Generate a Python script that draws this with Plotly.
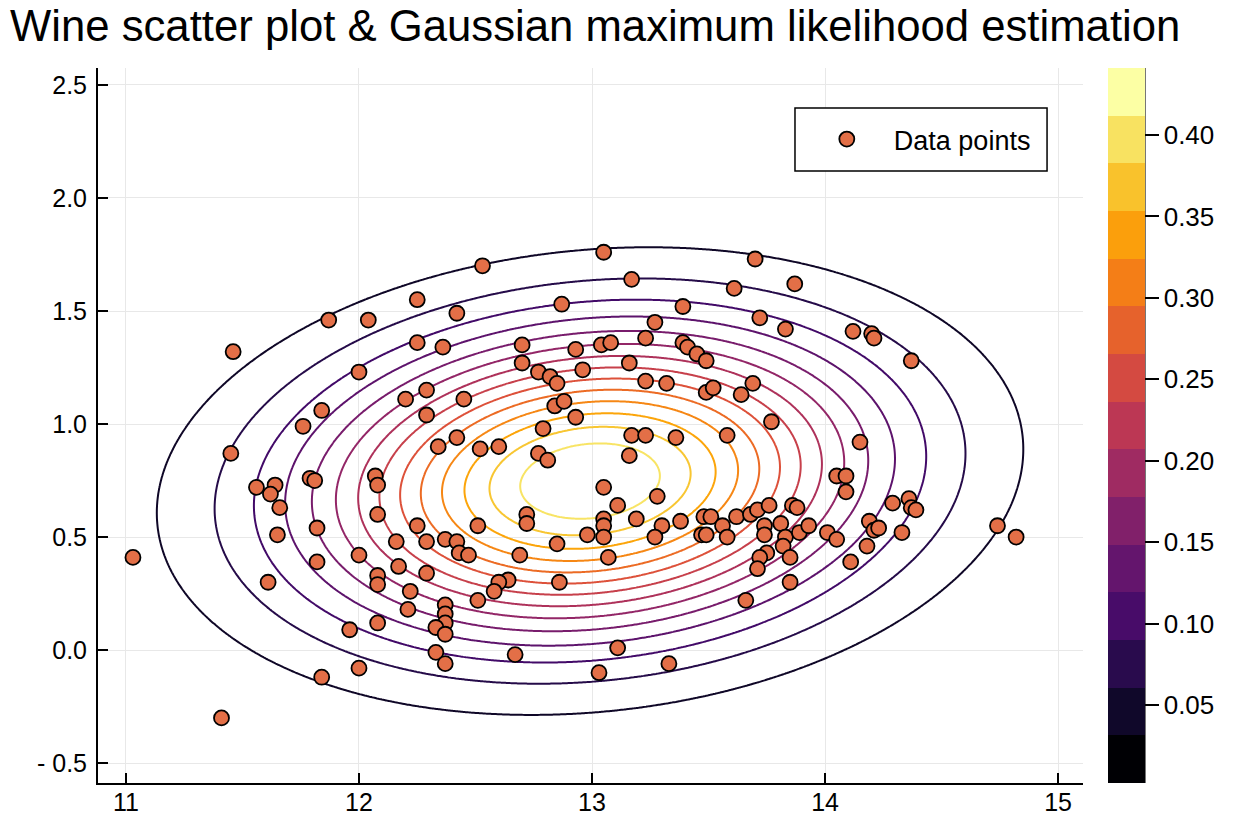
import numpy as np
import plotly.graph_objects as go
import plotly.colors as pc

# Wine data: alcohol vs log(malic acid)
alcohol = [
    11.46, 11.87, 12.04, 12.00, 12.20, 11.84, 11.76, 11.45, 12.07, 12.08, 11.56, 11.64,
    11.62, 11.79, 11.81, 11.66, 12.08, 11.82, 11.65, 12.16, 11.03, 12.00, 11.82, 12.17,
    12.08, 11.61, 12.08, 12.22, 12.21, 11.96, 12.08, 12.00, 11.84, 11.41,
    13.05, 12.53, 13.17, 12.25, 12.42, 12.87, 13.39, 13.27, 12.25, 12.36, 12.70, 12.93,
    13.04, 13.08, 13.23, 13.39, 13.41, 13.45, 13.49, 12.70, 12.77, 12.82, 12.85, 12.96,
    13.16, 13.23, 13.32, 13.49, 12.29, 12.45, 12.84, 12.88,
    12.29, 12.93, 12.79, 13.17, 13.23, 13.36, 12.42, 12.34, 12.52, 12.60, 12.77, 12.81,
    13.16, 13.05, 13.28, 13.11, 12.72, 12.72, 12.25, 12.51, 13.05, 13.05, 13.19, 13.38,
    13.48, 13.51, 13.30, 13.27, 12.98, 13.05, 13.47, 13.49, 12.37, 12.42, 12.29, 12.43,
    12.47, 12.85, 12.69, 13.07, 12.29,
    12.64, 12.60, 12.58, 12.86, 12.51, 12.37, 12.37, 12.37, 12.33, 12.37, 12.33, 12.37,
    12.67, 13.11, 13.03, 13.33,
    13.70, 13.61, 13.87, 13.72, 13.83, 14.12, 14.20, 14.21, 14.37, 13.52, 13.69, 13.64,
    13.77, 13.58, 14.15, 14.05, 14.09, 14.09, 14.29, 14.36, 14.37, 14.39, 13.62, 13.68,
    13.71, 13.76, 13.86, 13.88, 13.56, 13.58, 13.74, 13.81, 13.74, 13.83, 13.89, 13.93,
    14.01, 14.05, 13.82, 13.75, 13.72, 13.85, 13.71, 14.19, 14.21, 14.23, 14.18, 14.11,
    14.33, 14.74, 14.82,
    13.85, 13.66,
]
log_malic_acid = [
    1.32, 1.46, 1.46, 1.23, 1.11, 1.06, 0.99, 0.87, 0.77, 0.73, 0.72, 0.73,
    0.69, 0.76, 0.75, 0.63, 0.60, 0.54, 0.51, 0.48, 0.41, 0.42, 0.39, 0.37,
    0.33, 0.30, 0.29, 0.26, 0.18, 0.09, 0.12, -0.08, -0.12, -0.30,
    1.76, 1.70, 1.64, 1.55, 1.49, 1.53, 1.52, 1.45, 1.36, 1.34, 1.35, 1.33,
    1.35, 1.36, 1.38, 1.36, 1.34, 1.31, 1.28, 1.27, 1.23, 1.21, 1.18, 1.24,
    1.27, 1.19, 1.18, 1.14, 1.15, 1.11, 1.08, 1.10,
    1.04, 1.03, 0.98, 0.95, 0.95, 0.94, 0.94, 0.90, 0.89, 0.90, 0.87, 0.84,
    0.86, 0.72, 0.68, 0.64, 0.60, 0.56, 0.55, 0.55, 0.58, 0.55, 0.58, 0.57,
    0.59, 0.59, 0.55, 0.50, 0.51, 0.50, 0.51, 0.51, 0.49, 0.48, 0.48, 0.43,
    0.42, 0.47, 0.42, 0.41, 0.34,
    0.31, 0.30, 0.26, 0.30, 0.22, 0.20, 0.16, 0.12, 0.10, 0.07, -0.01, -0.06,
    -0.02, 0.01, -0.10, -0.06,
    1.73, 1.60, 1.62, 1.47, 1.42, 1.41, 1.40, 1.38, 1.28, 1.16, 1.18, 1.13,
    1.01, 0.95, 0.92, 0.77, 0.77, 0.70, 0.65, 0.67, 0.63, 0.62, 0.59, 0.60,
    0.62, 0.64, 0.64, 0.63, 0.55, 0.50, 0.55, 0.56, 0.51, 0.50, 0.52, 0.55,
    0.52, 0.49, 0.46, 0.43, 0.41, 0.41, 0.36, 0.57, 0.53, 0.54, 0.46, 0.39,
    0.52, 0.55, 0.50,
    0.30, 0.22,
]

x_ticks = [11, 12, 13, 14, 15]
y_ticks = [-0.5, 0.0, 0.5, 1.0, 1.5, 2.0, 2.5]
y_tick_text = ["- 0.5", "0.0", "0.5", "1.0", "1.5", "2.0", "2.5"]
cbar_ticks = [0.05, 0.10, 0.15, 0.20, 0.25, 0.30, 0.35, 0.40]
cbar_tick_text = ["0.05", "0.10", "0.15", "0.20", "0.25", "0.30", "0.35", "0.40"]

# inferno colour map stops (0, 0.1, ..., 1)
inferno_stops = ["#000004", "#160b39", "#420a68", "#6a176e", "#932667", "#bc3754",
                 "#dd513a", "#f37819", "#fca50a", "#f6d746", "#fcffa4"]
inferno = [[i / 10, c] for i, c in enumerate(inferno_stops)]

N_BANDS = 15
LEVEL_BASE = 0.0022   # lowest value of the colour bar
FONT = "Liberation Sans, Arial, sans-serif"
X_RANGE = [10.88, 15.107]
Y_RANGE = [-0.588, 2.575]

# Gaussian maximum likelihood estimate
xa = np.array(alcohol)
ya = np.array(log_malic_acid)
mu = np.array([xa.mean(), ya.mean()])
cov = np.cov(np.vstack([xa, ya]), bias=True)
inv = np.linalg.inv(cov)
det = np.linalg.det(cov)
peak = 1.0 / (2 * np.pi * np.sqrt(det))

gx = np.linspace(X_RANGE[0], X_RANGE[1], 400)
gy = np.linspace(Y_RANGE[0], Y_RANGE[1], 400)
GX, GY = np.meshgrid(gx, gy)
dx = GX - mu[0]
dy = GY - mu[1]
q = inv[0, 0] * dx**2 + 2 * inv[0, 1] * dx * dy + inv[1, 1] * dy**2
Z = np.exp(-0.5 * q) * peak

step = (peak - LEVEL_BASE) / N_BANDS
n_lines = N_BANDS - 1  # contour lines at base + k*step, k = 1..14

# line k coloured as inferno(k / N_BANDS)
line_cols = pc.sample_colorscale(inferno, [k / N_BANDS for k in range(1, n_lines + 1)])
line_scale = [[k / (n_lines - 1), c] for k, c in enumerate(line_cols)]

# colour bar bands coloured as inferno(i / 14)
band_colors = pc.sample_colorscale(inferno, [i / (N_BANDS - 1) for i in range(N_BANDS)])
discrete_scale = []
for i, c in enumerate(band_colors):
    discrete_scale.append([i / N_BANDS, c])
    discrete_scale.append([(i + 1) / N_BANDS, c])

fig = go.Figure()

fig.add_trace(go.Contour(
    x=gx, y=gy, z=Z,
    contours=dict(coloring="lines", start=LEVEL_BASE + step,
                  end=LEVEL_BASE + n_lines * step, size=step),
    colorscale=line_scale, zmin=LEVEL_BASE + step, zmax=LEVEL_BASE + n_lines * step,
    line=dict(width=2), showscale=False, hoverinfo="skip", showlegend=False,
))

fig.add_trace(go.Scatter(
    x=[None], y=[None], mode="markers", showlegend=False, hoverinfo="skip",
    marker=dict(
        color=[0], colorscale=discrete_scale, cmin=LEVEL_BASE, cmax=peak, showscale=True,
        colorbar=dict(
            thickness=37, thicknessmode="pixels", len=1.0, lenmode="fraction",
            x=1.0254, xanchor="left", y=0.5, yanchor="middle", xpad=0, ypad=0,
            outlinewidth=0, tickvals=cbar_ticks, ticktext=cbar_tick_text,
            ticks="outside", ticklen=14, tickwidth=1.5, tickcolor="black",
            tickfont=dict(family=FONT, size=26, color="black"),
        ),
    ),
))

fig.add_trace(go.Scatter(
    x=alcohol, y=log_malic_acid, mode="markers", name="Data points",
    marker=dict(color="#E36F47", size=15, line=dict(color="black", width=1.8)),
))

# right edge line of the colour bar
fig.add_shape(type="line", xref="paper", yref="paper", x0=1.063, x1=1.063, y0=0, y1=1,
              line=dict(color="#555555", width=1.5))
# legend frame
fig.add_shape(type="rect", xref="paper", yref="paper", x0=0.7076, x1=0.9635, y0=0.856, y1=0.944,
              line=dict(color="black", width=1.5), fillcolor="white", layer="above")

axis_common = dict(
    showgrid=True, gridcolor="#e8e8e8", gridwidth=1, zeroline=False,
    showline=True, linecolor="black", linewidth=2, mirror=False,
    ticks="inside", ticklen=10, tickwidth=1.5, tickcolor="black",
    tickfont=dict(family=FONT, size=25, color="black"),
)

fig.update_layout(
    width=1250, height=834,
    margin=dict(l=98, r=167, t=68, b=51),
    plot_bgcolor="white", paper_bgcolor="white",
    title=dict(text="Wine scatter plot & Gaussian maximum likelihood estimation",
               x=0.008, xanchor="left", xref="container",
               y=0.988, yanchor="top", yref="container",
               font=dict(family=FONT, size=43.7, color="black")),
    xaxis=dict(range=X_RANGE, tickvals=x_ticks, ticktext=[str(v) for v in x_ticks],
               ticklabelstandoff=-4, **axis_common),
    yaxis=dict(range=Y_RANGE, tickvals=y_ticks, ticktext=y_tick_text,
               ticklabelstandoff=4, **axis_common),
    legend=dict(x=0.7125, y=0.900, xanchor="left", yanchor="middle",
                bgcolor="rgba(0,0,0,0)", borderwidth=0,
                font=dict(family=FONT, size=27, color="black"), itemwidth=84),
    showlegend=True,
)

fig.write_html("out.html")
